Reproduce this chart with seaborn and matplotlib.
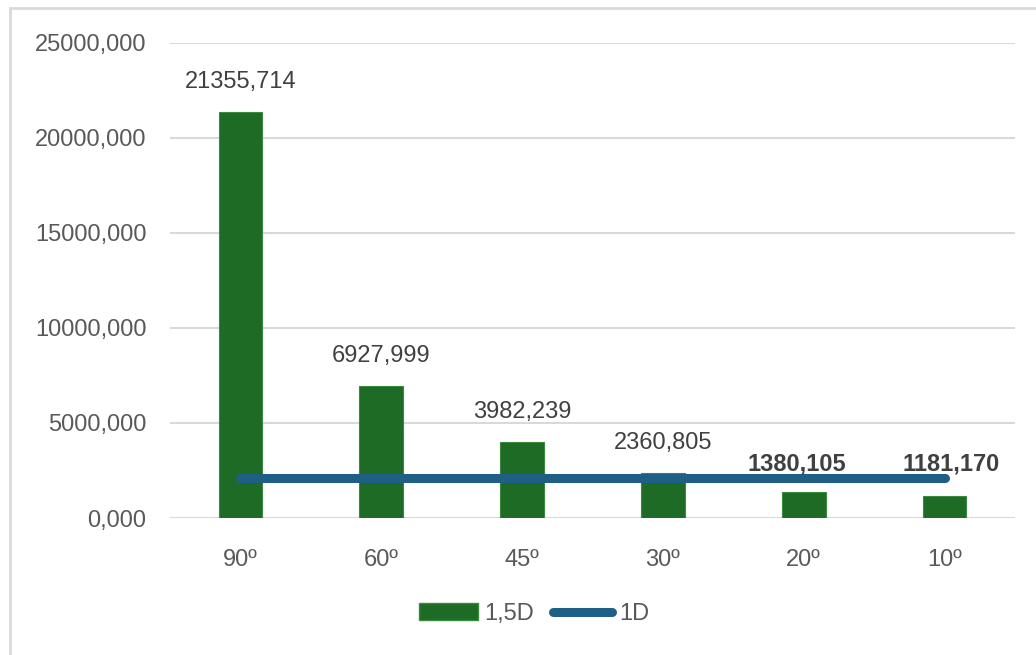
import matplotlib
matplotlib.use("Agg")
import matplotlib.pyplot as plt
import seaborn as sns
import numpy as np
import pandas as pd
from matplotlib.patches import Rectangle
from matplotlib.lines import Line2D
from matplotlib.patches import Patch

categories = ["90º", "60º", "45º", "30º", "20º", "10º"]
values_15d = [21355.714, 6927.999, 3982.239, 2360.805, 1380.105, 1181.170]
values_1d = [2100, 2100, 2100, 2100, 2100, 2100]
label_bold = [False, False, False, False, True, True]
yticks = [0, 5000, 10000, 15000, 20000, 25000]

bar_color = "#1d6b25"
line_color = "#1f5f86"
text_color = "#595959"
fs = 17

sns.set_style("white")
plt.rcParams["font.family"] = ["Liberation Sans", "DejaVu Sans"]

fig = plt.figure(figsize=(10.36, 6.55), dpi=100)
ax = fig.add_axes([170/1036, 1-518/655, (1015-170)/1036, (518-43)/655])

df = pd.DataFrame({"cat": categories, "v": values_15d})
sns.barplot(data=df, x="cat", y="v", color=bar_color, width=0.31,
            edgecolor="#3a8a3e", linewidth=0.8, saturation=1, ax=ax, zorder=2)
sns.lineplot(x=np.arange(len(categories)), y=values_1d, color=line_color,
             linewidth=6.5, ax=ax, zorder=3, solid_capstyle="round")

ax.set_ylim(0, 25000)
ax.set_xlim(-0.5, len(categories) - 0.5)
ax.set_yticks(yticks)
ax.set_yticklabels([f"{v:.3f}".replace(".", ",") for v in yticks])
ax.yaxis.grid(True, color="#d9d9d9", linewidth=1.5, zorder=0)
ax.set_axisbelow(True)
for s in ax.spines.values():
    s.set_visible(False)
ax.set_xlabel("")
ax.set_ylabel("")
ax.tick_params(axis="y", length=0, pad=17, labelsize=fs, labelcolor=text_color)
ax.tick_params(axis="x", length=0, pad=22, labelsize=fs, labelcolor=text_color)

for i, (v, b) in enumerate(zip(values_15d, label_bold)):
    txt = f"{v:.3f}".replace(".", ",")
    if b:
        ax.annotate(txt, (i, max(v, values_1d[i])), xytext=(-5 if i < 5 else 5, 2),
                    textcoords="offset points", ha="center", va="bottom",
                    fontsize=fs, fontweight="bold", color="#404040", zorder=4)
    else:
        ax.annotate(txt, (i, v), xytext=(0, 14), textcoords="offset points",
                    ha="center", va="bottom", fontsize=fs, color="#404040")

handles = [Patch(facecolor=bar_color, edgecolor="#3a8a3e"),
           Line2D([0], [0], color=line_color, linewidth=6.5, solid_capstyle="round")]
fig.legend(handles, ["1,5D", "1D"], loc="center", bbox_to_anchor=(534/1036, 1-614/655),
           ncol=2, frameon=False, fontsize=fs, labelcolor=text_color,
           handlelength=2.5, handletextpad=0.3, columnspacing=0.8)

fig.patches.append(Rectangle((10/1036, -0.2), 1.5, 1-8/655+0.2, transform=fig.transFigure,
                             fill=False, edgecolor="#d9d9d9", linewidth=2, zorder=0))

fig.savefig("out.png", dpi=100)
